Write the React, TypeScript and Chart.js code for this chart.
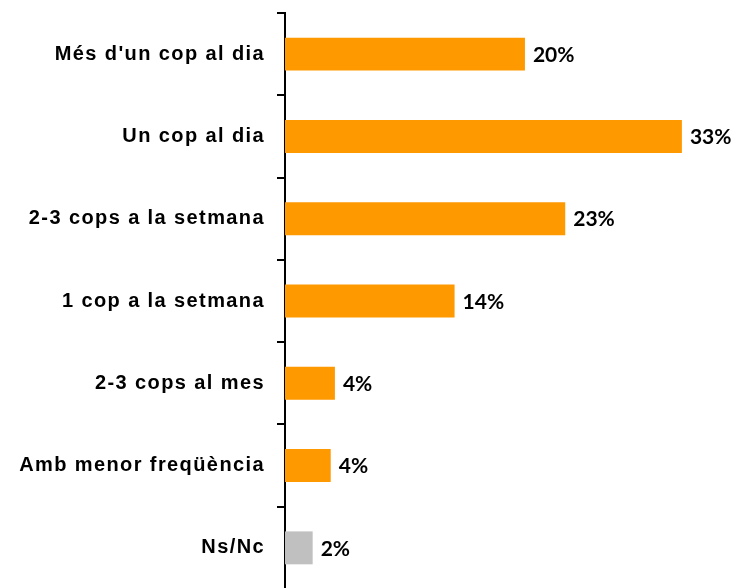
import React, { useEffect, useRef } from "react";
import { Chart, registerables } from "chart.js";

Chart.register(...registerables);

const categories = [
  "Més d'un cop al dia",
  "Un cop al dia",
  "2-3 cops a la setmana",
  "1 cop a la setmana",
  "2-3 cops al mes",
  "Amb menor freqüència",
  "Ns/Nc",
];
const values = [19.95, 33.0, 23.3, 14.1, 4.15, 3.8, 2.3];
const barColors = ["#FF9900", "#FF9900", "#FF9900", "#FF9900", "#FF9900", "#FF9900", "#C0C0C0"];

const spacingPlugin = {
  id: "spacing",
  beforeDraw(chart: any) {
    (chart.ctx as any).letterSpacing = "1.4px";
  },
};

const valueLabels = {
  id: "valueLabels",
  afterDatasetsDraw(chart: any) {
    const ctx = chart.ctx;
    const meta = chart.getDatasetMeta(0);
    ctx.save();
    (ctx as any).letterSpacing = "0px";
    ctx.font = "bold 21px Lato";
    ctx.fillStyle = "#000000";
    ctx.textAlign = "left";
    ctx.textBaseline = "middle";
    meta.data.forEach((bar: any, i: number) => {
      ctx.fillText(Math.round(values[i]) + "%", bar.x + 8, bar.y + 1);
    });
    ctx.restore();
  },
};

export default function App() {
  const ref = useRef<HTMLCanvasElement>(null);
  useEffect(() => {
    if (!ref.current) return;
    const chart = new Chart(ref.current, {
      type: "bar",
      data: {
        labels: categories,
        datasets: [
          {
            data: values,
            backgroundColor: barColors,
            barPercentage: 0.4,
            categoryPercentage: 1,
          },
        ],
      },
      options: {
        indexAxis: "y",
        animation: false,
        responsive: false,
        maintainAspectRatio: false,
        layout: { padding: { top: 13, bottom: 1, left: 0, right: 8 } },
        plugins: { legend: { display: false }, tooltip: { enabled: false } },
        scales: {
          x: { display: false, min: 0, max: 37 },
          y: {
            afterFit: (s: any) => {
              s.width = 285;
              s.paddingTop = 0;
              s.paddingBottom = 0;
            },
            border: { display: true, color: "#000000", width: 2 },
            grid: {
              drawOnChartArea: false,
              drawTicks: true,
              tickLength: 8,
              color: "#000000",
              lineWidth: 2,
              offset: true,
            },
            ticks: {
              color: "#000000",
              padding: 12,
              font: { family: "Liberation Sans", size: 20, weight: "bold" },
            },
          },
        },
      },
      plugins: [spacingPlugin, valueLabels],
    });
    return () => chart.destroy();
  }, []);
  return (
    <canvas
      ref={ref}
      width={738}
      height={590}
      style={{ position: "fixed", top: 0, left: 0, width: 738, height: 590 }}
    />
  );
}
